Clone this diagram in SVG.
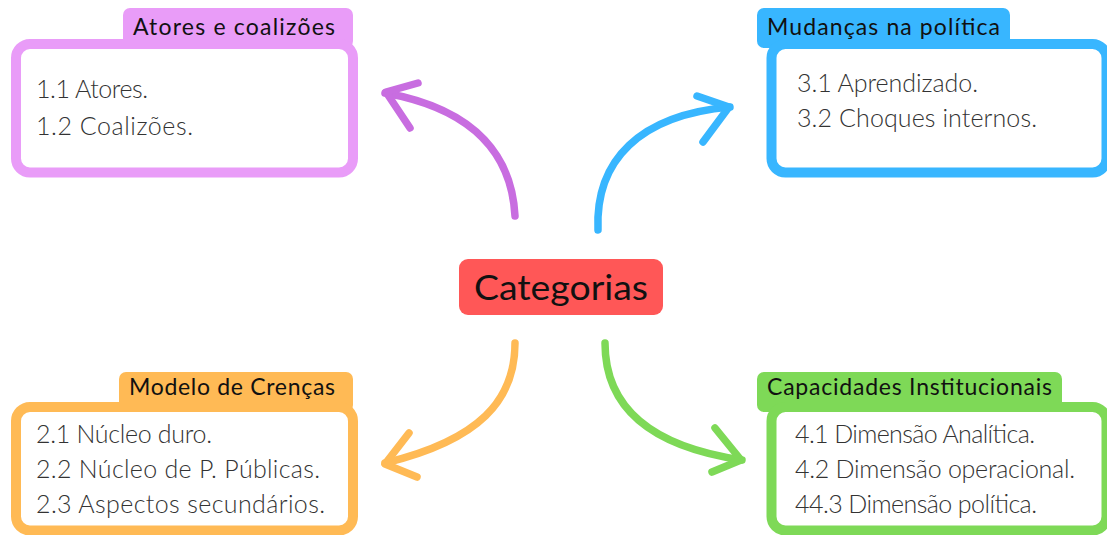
<svg xmlns="http://www.w3.org/2000/svg" width="1107" height="535" viewBox="0 0 1107 535">
<style>
.tab{font-family:Lato,"Open Sans",sans-serif;font-size:23px;fill:#111}
.item{font-family:Lato,"Open Sans",sans-serif;font-size:25px;font-weight:300;fill:#333}
.box{fill:#fff;stroke-width:10}
.arr{fill:none;stroke-width:7.5;stroke-linecap:round;stroke-linejoin:round}
</style>
<rect width="1107" height="535" fill="#fff"/>
<g id="connectors">
  <path class="arr" stroke="#C86DE0" d="M515,216 C512,160 480,110 385,93"/>
  <path class="arr" stroke="#C86DE0" d="M418,83 L386,92 L410,128"/>
  <path class="arr" stroke="#38B6FF" d="M598,230 C595,160 640,115 730,107"/>
  <path class="arr" stroke="#38B6FF" d="M697,96 L729,107 L703,142"/>
  <path class="arr" stroke="#FFBA55" d="M515,343 C515,400 480,440 385,463"/>
  <path class="arr" stroke="#FFBA55" d="M409,433 L385,464 L417,477"/>
  <path class="arr" stroke="#7ED957" d="M605,343 C605,400 640,445 742,460"/>
  <path class="arr" stroke="#7ED957" d="M715,428 L741,460 L712,472"/>
</g>
<g id="center">
  <rect x="459" y="259" width="204" height="56" rx="9" fill="#FF5757"/>
  <text x="474" y="300" textLength="174" lengthAdjust="spacingAndGlyphs" font-family="Lato,'Open Sans',sans-serif" font-size="34" fill="#111">Categorias</text>
</g>
<g id="atores">
  <rect x="123" y="8" width="230" height="40" rx="7" fill="#E99CF8"/>
  <text class="tab" x="133" y="35" textLength="202">Atores e coalizões</text>
  <rect class="box" x="16" y="44" width="337" height="128.5" rx="14" stroke="#E99CF8"/>
  <text class="item" x="36" y="98" textLength="112">1.1 Atores.</text>
  <text class="item" x="36" y="135" textLength="157">1.2 Coalizões.</text>
</g>
<g id="mudancas">
  <rect x="757" y="8" width="253" height="40" rx="7" fill="#38B6FF"/>
  <text class="tab" x="767" y="35" textLength="233">Mudanças na política</text>
  <rect class="box" x="771.5" y="44" width="335" height="128.5" rx="14" stroke="#38B6FF"/>
  <text class="item" x="797" y="92" textLength="181">3.1 Aprendizado.</text>
  <text class="item" x="797" y="127" textLength="240">3.2 Choques internos.</text>
</g>
<g id="modelo">
  <rect x="119" y="372" width="234" height="40" rx="7" fill="#FFBA55"/>
  <text class="tab" x="129" y="395" textLength="206">Modelo de Crenças</text>
  <rect class="box" x="16" y="407" width="337" height="123.5" rx="14" stroke="#FFBA55"/>
  <text class="item" x="36" y="443" textLength="176">2.1 Núcleo duro.</text>
  <text class="item" x="36" y="478" textLength="284">2.2 Núcleo de P. Públicas.</text>
  <text class="item" x="36" y="513" textLength="289">2.3 Aspectos secundários.</text>
</g>
<g id="capacidades">
  <rect x="757" y="372" width="305" height="40" rx="7" fill="#7ED957"/>
  <text class="tab" x="767" y="395" textLength="285">Capacidades Institucionais</text>
  <rect class="box" x="771.5" y="407" width="335" height="123.5" rx="14" stroke="#7ED957"/>
  <text class="item" x="795" y="443" textLength="240">4.1 Dimensão Analítica.</text>
  <text class="item" x="795" y="478" textLength="280">4.2 Dimensão operacional.</text>
  <text class="item" x="795" y="513" textLength="242">44.3 Dimensão política.</text>
</g>
</svg>
